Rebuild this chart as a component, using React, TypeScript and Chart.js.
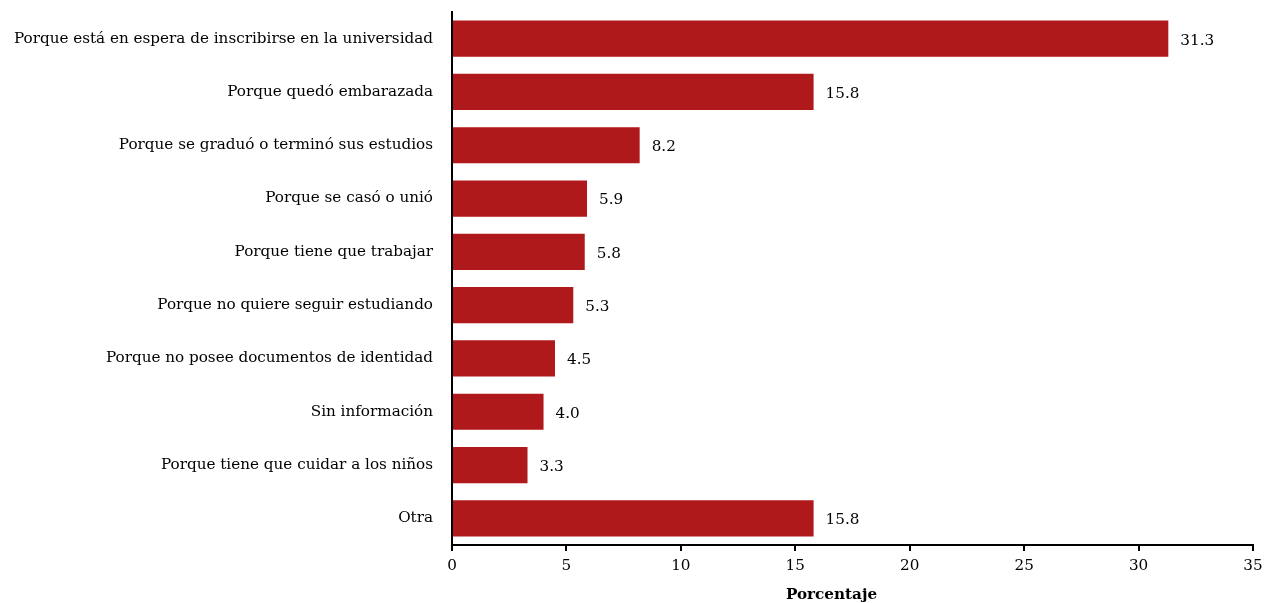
import React, { useEffect, useRef } from "react";
import { Chart, registerables } from "chart.js";

Chart.register(...registerables);

const categories = [
  "Porque está en espera de inscribirse en la universidad",
  "Porque quedó embarazada",
  "Porque se graduó o terminó sus estudios",
  "Porque se casó o unió",
  "Porque tiene que trabajar",
  "Porque no quiere seguir estudiando",
  "Porque no posee documentos de identidad",
  "Sin información",
  "Porque tiene que cuidar a los niños",
  "Otra",
];
const values = [31.3, 15.8, 8.2, 5.9, 5.8, 5.3, 4.5, 4.0, 3.3, 15.8];
const axisTitle = "Porcentaje";
const xMin = 0;
const xMax = 35;
const xStep = 5;

const FONT = "'DejaVu Serif', 'Liberation Serif', serif";
const FS = 15.2;

const valueLabels = {
  id: "valueLabels",
  afterDatasetsDraw(chart: any) {
    const ctx = chart.ctx;
    const meta = chart.getDatasetMeta(0);
    ctx.save();
    ctx.font = `${FS}px ${FONT}`;
    ctx.fillStyle = "#000";
    ctx.textAlign = "left";
    ctx.textBaseline = "middle";
    meta.data.forEach((bar: any, i: number) => {
      ctx.fillText(values[i].toFixed(1), bar.x + 12, bar.y + 2);
    });
    ctx.restore();
  },
};

const axisTitlePlugin = {
  id: "axisTitlePlugin",
  afterDraw(chart: any) {
    const ctx = chart.ctx;
    const xs = chart.scales.x;
    ctx.save();
    ctx.font = `bold ${FS}px ${FONT}`;
    ctx.fillStyle = "#000";
    ctx.textAlign = "center";
    ctx.textBaseline = "middle";
    const cx = (xs.left + xs.right) / 2 - 21;
    ctx.fillText(axisTitle, cx, chart.height - 8);
    ctx.restore();
  },
};

export default function App() {
  const ref = useRef<HTMLCanvasElement>(null);
  useEffect(() => {
    document.body.style.margin = "0";
    const chart = new Chart(ref.current!, {
      type: "bar",
      data: {
        labels: categories,
        datasets: [
          {
            data: values,
            backgroundColor: "#B0191B",
            categoryPercentage: 1,
            barPercentage: 0.68,
          },
        ],
      },
      options: {
        indexAxis: "y",
        animation: false,
        responsive: false,
        maintainAspectRatio: false,
        layout: { padding: { top: 12, right: 12, left: 0, bottom: 0 } },
        plugins: {
          legend: { display: false },
          tooltip: { enabled: false },
        },
        scales: {
          x: {
            min: xMin,
            max: xMax,
            ticks: {
              stepSize: xStep,
              color: "#000",
              font: { family: FONT, size: FS },
              padding: 6,
              maxRotation: 0,
            },
            grid: {
              drawOnChartArea: false,
              drawTicks: true,
              tickLength: 6,
              color: "#000",
              lineWidth: 2,
            },
            border: { display: true, color: "#000", width: 2 },
            afterFit: (s: any) => {
              s.height = 58;
              s.paddingLeft = 0;
              s.paddingRight = 0;
            },
          },
          y: {
            ticks: {
              color: "#000",
              font: { family: FONT, size: FS },
              padding: 11,
            },
            grid: { display: false },
            border: { display: true, color: "#000", width: 2 },
            afterFit: (s: any) => {
              s.width = 452;
              s.paddingTop = 0;
              s.paddingBottom = 0;
            },
          },
        },
      },
      plugins: [valueLabels, axisTitlePlugin],
    });
    return () => chart.destroy();
  }, []);
  return (
    <div style={{ width: 1265, height: 603 }}>
      <canvas ref={ref} width={1265} height={603} />
    </div>
  );
}
